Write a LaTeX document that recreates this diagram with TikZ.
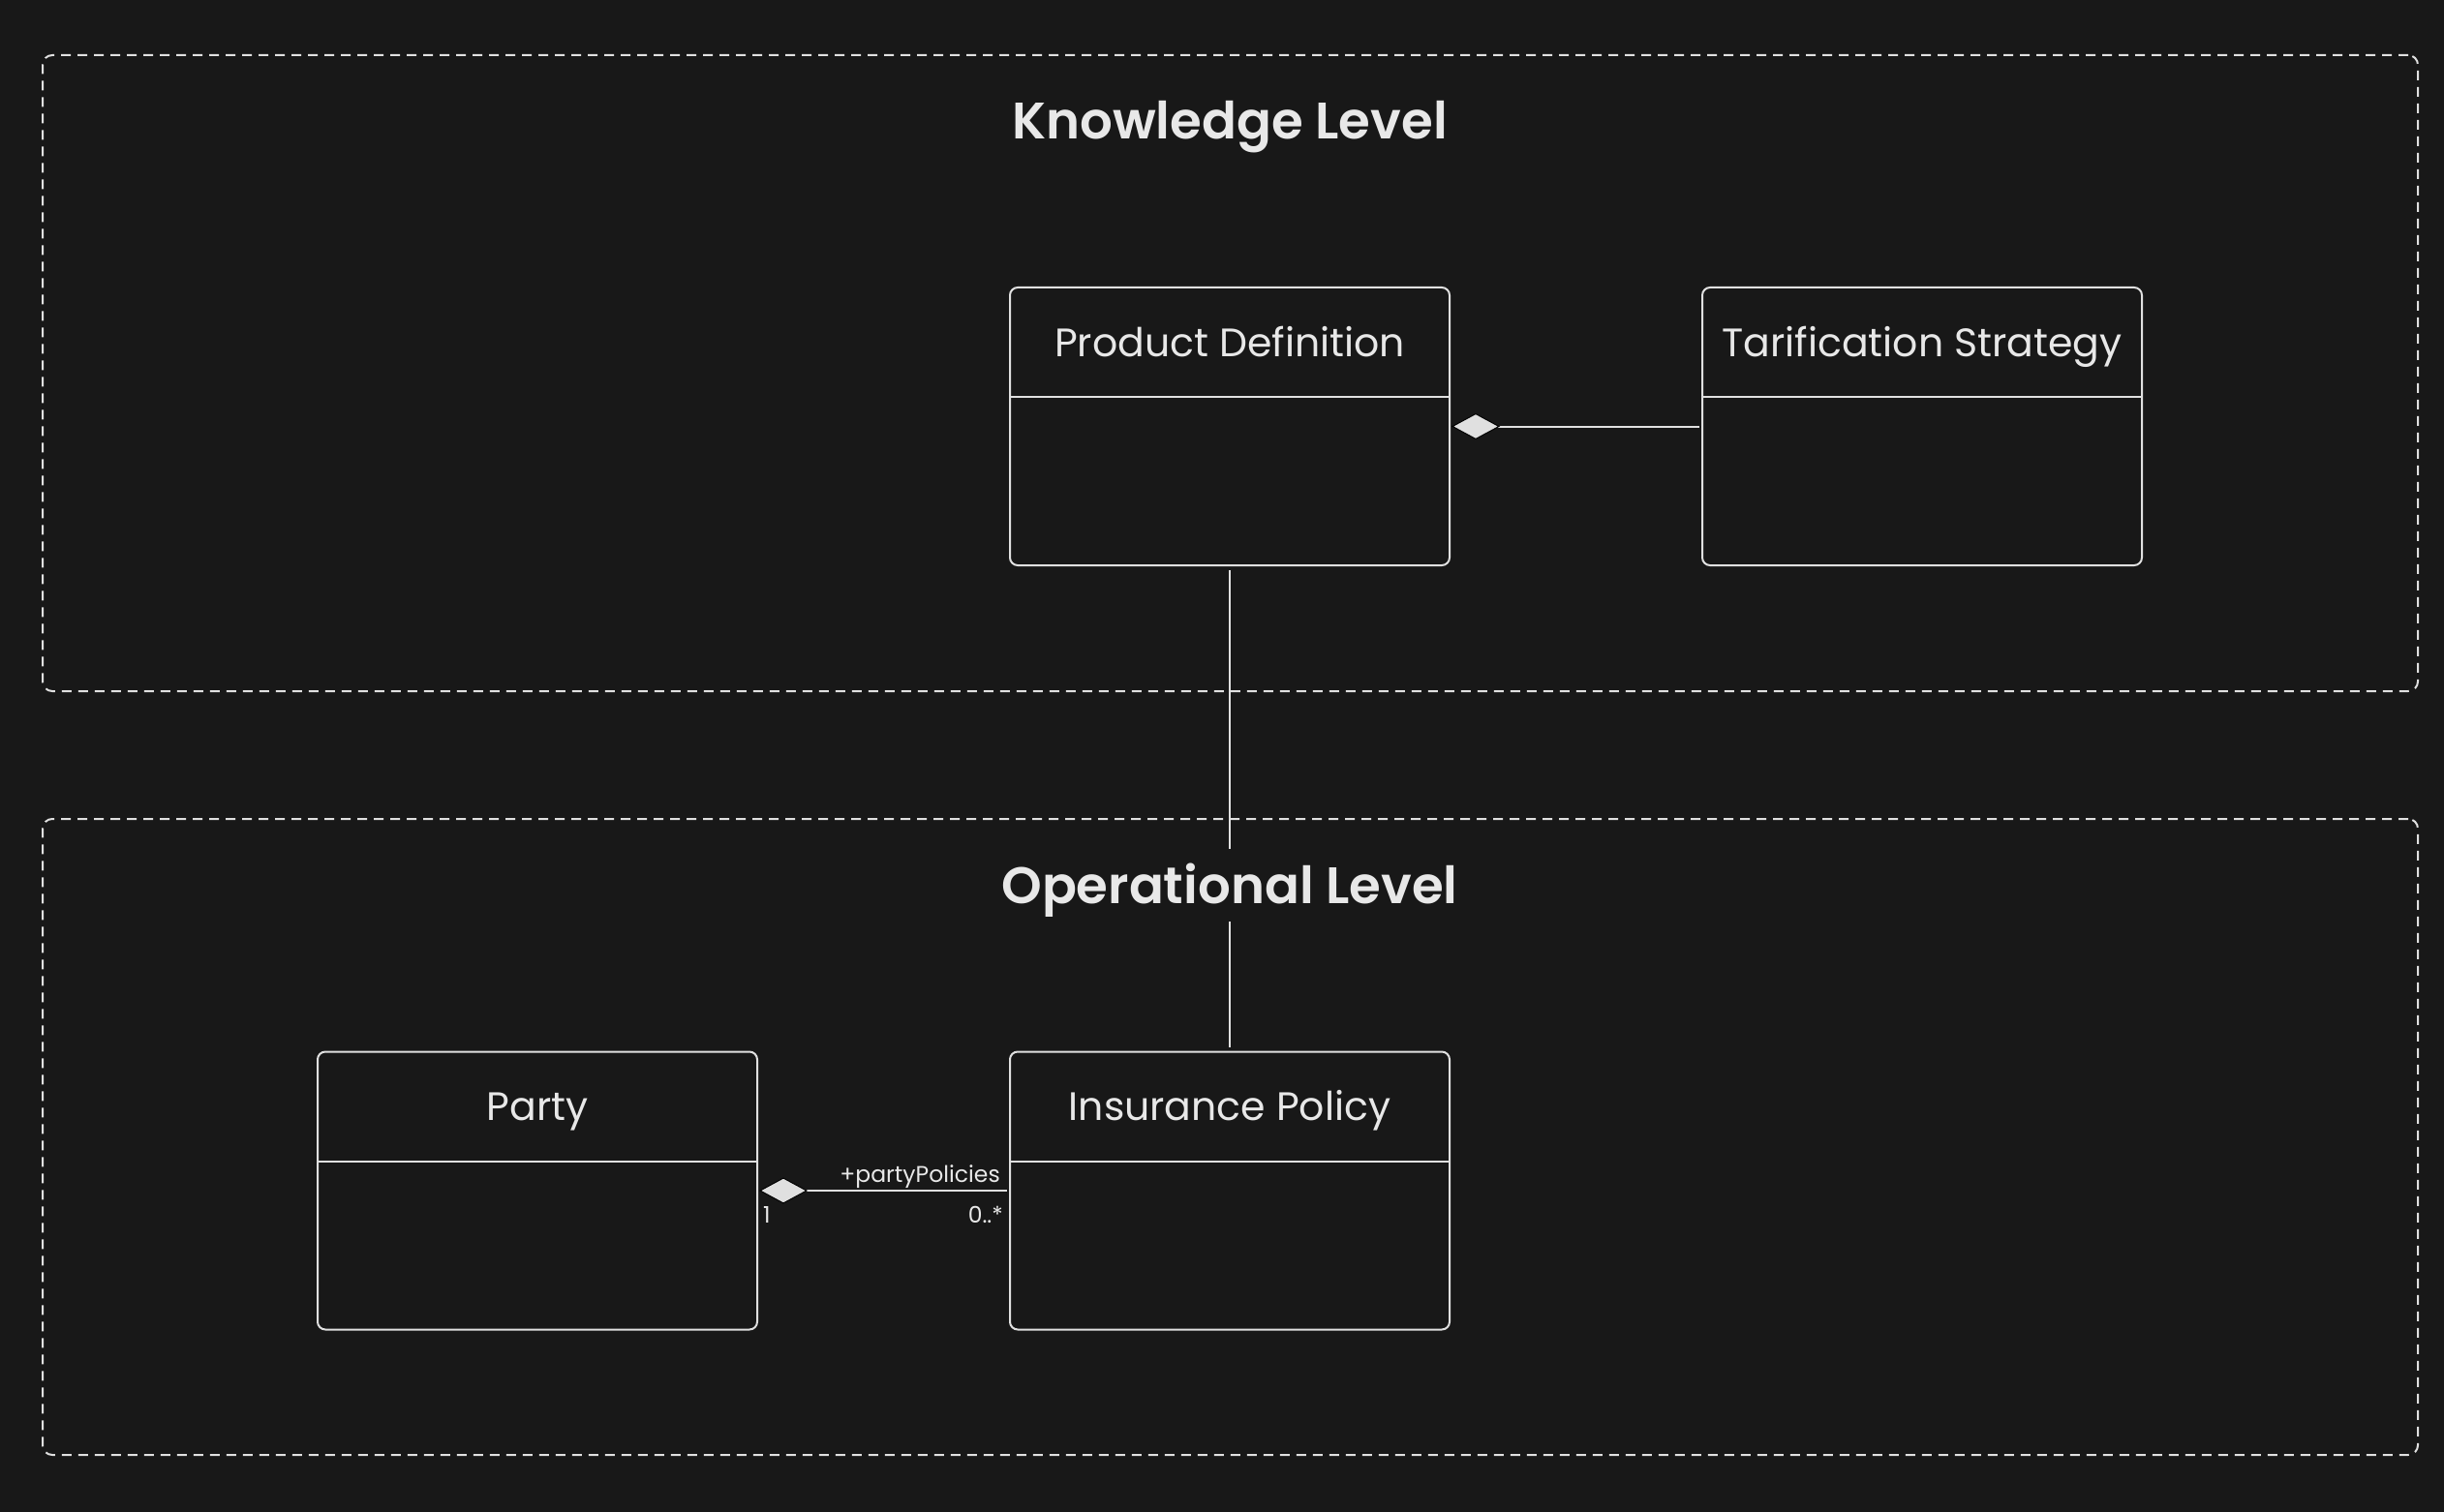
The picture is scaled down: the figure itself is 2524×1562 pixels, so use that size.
\documentclass[tikz,border=0pt]{standalone}
\usepackage{fontspec}
\setmainfont{Poppins}[Ligatures=NoCommon]
\newfontfamily\titlefont{Poppins SemiBold}[Ligatures=NoCommon]
\usetikzlibrary{arrows.meta,calc}
\definecolor{bgc}{HTML}{181818}
\definecolor{fgc}{HTML}{E0E0E0}
\definecolor{txc}{HTML}{E8E8E8}
\begin{document}
\begin{tikzpicture}[x=1pt,y=-1pt,
  frame/.style={draw=fgc, line width=2pt, dash pattern=on 10pt off 7pt, rounded corners=10pt, rectangle, inner sep=0pt},
  classbox/.style={draw=fgc, line width=2pt, rounded corners=8pt, rectangle, minimum width=454pt, minimum height=287pt, inner sep=0pt},
  clslabel/.style={text=txc, font=\fontsize{41}{50}\selectfont, anchor=base, inner sep=0pt},
  leveltitle/.style={text=txc, font=\titlefont\fontsize{53}{64}\selectfont, anchor=base, inner sep=0pt},
  smalllabel/.style={text=txc, font=\fontsize{23.5}{30}\selectfont, inner sep=0pt},
  conn/.style={draw=fgc, line width=2pt},
  comp/.style={conn, {Diamond[length=50pt,width=27pt,fill=fgc,color=black,line width=1pt]}-}
]
\useasboundingbox (0,0) rectangle (2524,1562);
\fill[bgc] (0,0) rectangle (2524,1562);

% level frames
\node[frame, minimum width=2453pt, minimum height=657pt] (kframe) at (1270.5,385.5) {};
\node[frame, minimum width=2453pt, minimum height=657pt] (oframe) at (1270.5,1174.5) {};
\node[leveltitle] (ktitle) at (1270,144) {Knowledge Level};
\node[leveltitle] (otitle) at (1270,933) {Operational Level};

% classes
\node[classbox] (pd) at (1270,440.5) {};
\node[classbox] (ts) at (1985,440.5) {};
\node[classbox] (party) at (555,1230) {};
\node[classbox] (ip) at (1270,1230) {};

\foreach \c/\t in {pd/Product Definition, ts/Tarification Strategy, party/Party, ip/Insurance Policy}{
  \draw[conn] ($(\c.north west)+(0,114)$) -- ($(\c.north east)+(0,114)$);
  \node[clslabel] (\c-label) at ($(\c.north)+(0,72)$) {\t};
}

% connectors
\coordinate (gaptop) at (1270,877);
\coordinate (gapbot) at (1270,952);
\draw[conn, shorten <=4pt] (pd.south) -- (gaptop);
\draw[conn, shorten >=4pt] (gapbot) -- (ip.north);

\draw[comp, shorten <=1pt, shorten >=2pt] (pd.east) -- (ts.west);
\draw[comp, shorten <=1pt, shorten >=2pt] (party.east) -- (ip.west);

\node[smalllabel, anchor=base east] (rolelbl) at ($(ip.west)+(-9,-9)$) {+partyPolicies};
\node[smalllabel, anchor=base east] (multmany) at ($(ip.west)+(-6,33)$) {0..*};
\node[smalllabel, anchor=base west] (multone) at ($(party.east)+(5,33)$) {1};
\end{tikzpicture}
\end{document}
